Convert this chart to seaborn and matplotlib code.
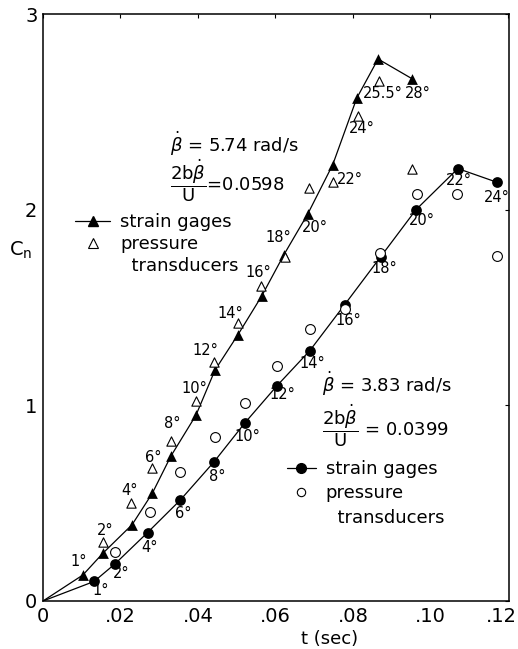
import numpy as np
import pandas as pd
import matplotlib
matplotlib.use('Agg')
import matplotlib.pyplot as plt
from matplotlib.lines import Line2D
from matplotlib.transforms import ScaledTranslation
import seaborn as sns

sns.set_theme(style='white')
plt.rcParams['font.family'] = ['DejaVu Sans']
plt.rcParams['mathtext.fontset'] = 'dejavusans'
for k in ['text.color', 'axes.labelcolor', 'xtick.color', 'ytick.color', 'axes.edgecolor']:
    plt.rcParams[k] = 'black'

# beta_dot = 5.74 rad/s : strain gages (filled triangles) and pressure transducers (open)
t_fast = [0.0103, 0.0155, 0.0230, 0.0282, 0.0330, 0.0395, 0.0444, 0.0503,
          0.0565, 0.0622, 0.0684, 0.0748, 0.0810, 0.0865, 0.0952]
cn_fast = [0.133, 0.245, 0.39, 0.55, 0.74, 0.95, 1.18, 1.36,
           1.56, 1.77, 1.98, 2.23, 2.57, 2.77, 2.67]
ang_fast = ['1', '2', '4', '6', '8', '10', '12', '14', '16', '18', '20', '22', '24', '25.5', '28']
t_fast_p = [0.0155, 0.0227, 0.0282, 0.0330, 0.0395, 0.0441, 0.0503, 0.0563,
            0.0625, 0.0687, 0.0748, 0.0813, 0.0867, 0.0952]
cn_fast_p = [0.30, 0.50, 0.68, 0.82, 1.02, 1.22, 1.42, 1.61,
             1.76, 2.11, 2.14, 2.48, 2.66, 2.21]

# beta_dot = 3.83 rad/s : strain gages (filled circles) and pressure transducers (open)
t_slow = [0.0132, 0.0186, 0.0270, 0.0354, 0.0441, 0.0521, 0.0604, 0.0689,
          0.0779, 0.0872, 0.0963, 0.1071, 0.1172]
cn_slow = [0.10, 0.19, 0.35, 0.515, 0.71, 0.91, 1.10, 1.28,
           1.515, 1.76, 2.00, 2.21, 2.14]
ang_slow = ['1', '2', '4', '6', '8', '10', '12', '14', '16', '18', '20', '22', '24']
t_slow_p = [0.0186, 0.0276, 0.0354, 0.0444, 0.0521, 0.0604, 0.0689, 0.0779,
            0.0870, 0.0965, 0.1068, 0.1172]
cn_slow_p = [0.25, 0.455, 0.66, 0.84, 1.01, 1.20, 1.39, 1.49,
             1.78, 2.08, 2.08, 1.765]

xticks = [0, 0.02, 0.04, 0.06, 0.08, 0.10, 0.12]
xtick_labels = ['0', '.02', '.04', '.06', '.08', '.10', '.12']
yticks = [0, 1, 2, 3]

# label offsets from each marker (pixels, right / up)
off_fast = [(-4, 13), (2, 23), (-3, 34), (1, 36), (1, 33), (-2, 27), (-10, 20), (-8, 21),
            (-4, 23), (-6, 17), (7, -14), (17, -15), (5, -30), (5, -34), (6, -15)]
off_slow = [(7, -9), (6, -10), (2, -15), (3, -13), (3, -14), (3, -14), (5, -9), (2, -13),
            (4, -16), (4, -12), (6, -11), (1, -12), (0, -15)]

fast = pd.DataFrame({'t': [0.0] + t_fast, 'cn': [0.0] + cn_fast})
slow = pd.DataFrame({'t': [0.0] + t_slow, 'cn': [0.0] + cn_slow})

fig = plt.figure(figsize=(5.18, 6.49), dpi=100)
ax = fig.add_axes([43 / 518, 48 / 649, 466 / 518, 587 / 649])

sns.lineplot(data=fast, x='t', y='cn', sort=False, color='black', linewidth=0.9, ax=ax)
sns.lineplot(data=slow, x='t', y='cn', sort=False, color='black', linewidth=0.9, ax=ax)
sns.scatterplot(x=t_fast, y=cn_fast, marker='^', s=60, color='black', linewidth=0, ax=ax, zorder=3)
sns.scatterplot(x=t_fast_p, y=cn_fast_p, marker='^', s=45, facecolor='white',
                edgecolor='black', linewidth=0.8, ax=ax, zorder=3)
sns.scatterplot(x=t_slow, y=cn_slow, marker='o', s=60, color='black', linewidth=0, ax=ax, zorder=3)
sns.scatterplot(x=t_slow_p, y=cn_slow_p, marker='o', s=50, facecolor='white',
                edgecolor='black', linewidth=0.8, ax=ax, zorder=3)

for tx, cy, a, off in zip(t_fast, cn_fast, ang_fast, off_fast):
    ax.annotate(a + '°', (tx, cy), xytext=off, textcoords='offset pixels',
                ha='center', va='center', fontsize=10.5)
for tx, cy, a, off in zip(t_slow, cn_slow, ang_slow, off_slow):
    ax.annotate(a + '°', (tx, cy), xytext=off, textcoords='offset pixels',
                ha='center', va='center', fontsize=10.5)

beta_dot = r'$\dot{\beta}$'
frac = r'$\dfrac{\mathrm{2b}\dot{\beta}}{\mathrm{U}}$'
ax.text(0.0328, 2.337, beta_dot + ' = 5.74 rad/s', fontsize=13, ha='left', va='center')
ax.text(0.0328, 2.150, frac + '=0.0598', fontsize=13, ha='left', va='center')
ax.text(0.0720, 1.112, beta_dot + ' = 3.83 rad/s', fontsize=13, ha='left', va='center')
ax.text(0.0720, 0.895, frac + ' = 0.0399', fontsize=13, ha='left', va='center')

blank = Line2D([], [], lw=0)
h_fast = [Line2D([], [], color='black', lw=0.9, marker='^', markersize=7),
          Line2D([], [], color='black', lw=0, marker='^', markersize=6.5,
                 markerfacecolor='white', markeredgewidth=0.8), blank]
leg1 = ax.legend(h_fast, ['strain gages', 'pressure', '  transducers'], loc='upper left',
                 bbox_to_anchor=(75 / 518, 1 - 213 / 649), bbox_transform=fig.transFigure,
                 frameon=False, fontsize=13, handlelength=1.95, handletextpad=0.55,
                 borderpad=0, borderaxespad=0, labelspacing=0.22)
ax.add_artist(leg1)
h_slow = [Line2D([], [], color='black', lw=0.9, marker='o', markersize=7),
          Line2D([], [], color='black', lw=0, marker='o', markersize=6,
                 markerfacecolor='white', markeredgewidth=0.8), blank]
ax.legend(h_slow, ['strain gages', 'pressure', '  transducers'], loc='upper left',
          bbox_to_anchor=(287 / 518, 1 - 460 / 649), bbox_transform=fig.transFigure,
          frameon=False, fontsize=13, handlelength=1.6, handletextpad=0.55,
          borderpad=0, borderaxespad=0, labelspacing=0.36)

ax.set_xlim(0, 0.1203)
ax.set_ylim(0, 3)
ax.set_xticks(xticks)
ax.set_xticklabels(xtick_labels)
ax.set_yticks(yticks)
ax.tick_params(direction='in', length=3, width=0.8, top=True, right=True,
               labelsize=14, pad=4, colors='black')
for s in ax.spines.values():
    s.set_color('black')
    s.set_linewidth(1.1)

# keep the last x tick label inside the image edge
last = ax.get_xticklabels()[-1]
last.set_transform(last.get_transform() + ScaledTranslation(-6 / 100, 0, fig.dpi_scale_trans))

ax.set_xlabel('t (sec)', fontsize=13)
ax.xaxis.set_label_coords(0.614, -0.05)
ax.set_ylabel(r'C$_\mathrm{n}$', fontsize=14, rotation=0)
ax.yaxis.set_label_coords(-0.047, 0.58)

fig.savefig('out.png', dpi=100, facecolor='white')
